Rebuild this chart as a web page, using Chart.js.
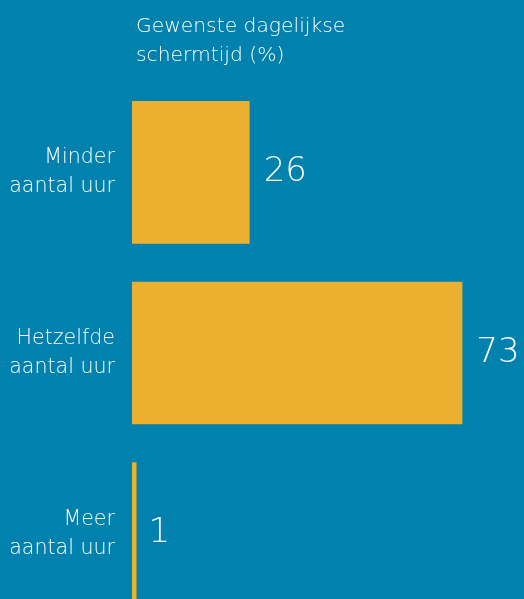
<!DOCTYPE html>
<html>
<head>
<meta charset="utf-8">
<script src="https://cdn.jsdelivr.net/npm/chart.js@4/dist/chart.umd.min.js"></script>
<style>
  html, body { margin: 0; padding: 0; background: #0181ae; overflow: hidden; }
  canvas { display: block; }
</style>
</head>
<body>
<canvas id="schermtijd" width="524" height="624"></canvas>
<script>
const categories = [
    ['Minder', 'aantal uur'],
    ['Hetzelfde', 'aantal uur'],
    ['Meer', 'aantal uur']
]
const percentages = [26, 73, 1]
const titleLines = ['Gewenste dagelijkse', 'schermtijd (%)']

const fontName = '"DejaVu Sans", "Open Sans", sans-serif'

// title above the plot + number after every bar
const labelPlugin = {
    id: 'labels',
    afterDatasetsDraw(chart) {
        const ctx = chart.ctx
        ctx.save()
        ctx.fillStyle = '#ffffff'
        ctx.font = '200 20.3px ' + fontName
        ctx.textAlign = 'left'
        ctx.textBaseline = 'middle'
        titleLines.forEach((t, i) => ctx.fillText(t, chart.chartArea.left + 4, 27 + i * 29))

        ctx.font = '200 34px ' + fontName
        const meta = chart.getDatasetMeta(0)
        meta.data.forEach((bar, i) => {
            const gap = percentages[i] < 5 ? 12 : 14
            ctx.fillText(percentages[i], bar.x + gap, bar.y)
        })
        ctx.restore()
    }
}

new Chart(document.getElementById('schermtijd'), {
    type: 'bar',
    data: {
        labels: categories,
        datasets: [{
            data: percentages,
            backgroundColor: '#ecb031',
            borderWidth: 0,
            barPercentage: 0.79,
            categoryPercentage: 1
        }]
    },
    options: {
        indexAxis: 'y',
        responsive: false,
        animation: false,
        layout: { padding: { top: 82, right: 39, left: 0, bottom: 0 } },
        plugins: { legend: { display: false }, tooltip: { enabled: false } },
        scales: {
            x: { display: false, min: 0, max: 78 },
            y: {
                grid: { display: false, drawTicks: false },
                border: { display: false },
                afterFit: s => {
                    s.width = 132
                    s.paddingTop = 0
                    s.paddingBottom = 0
                },
                ticks: {
                    color: '#ffffff',
                    padding: 17,
                    font: { family: fontName, size: 20.6, weight: '200', lineHeight: 1.41 }
                }
            }
        }
    },
    plugins: [labelPlugin]
})
</script>
</body>
</html>
